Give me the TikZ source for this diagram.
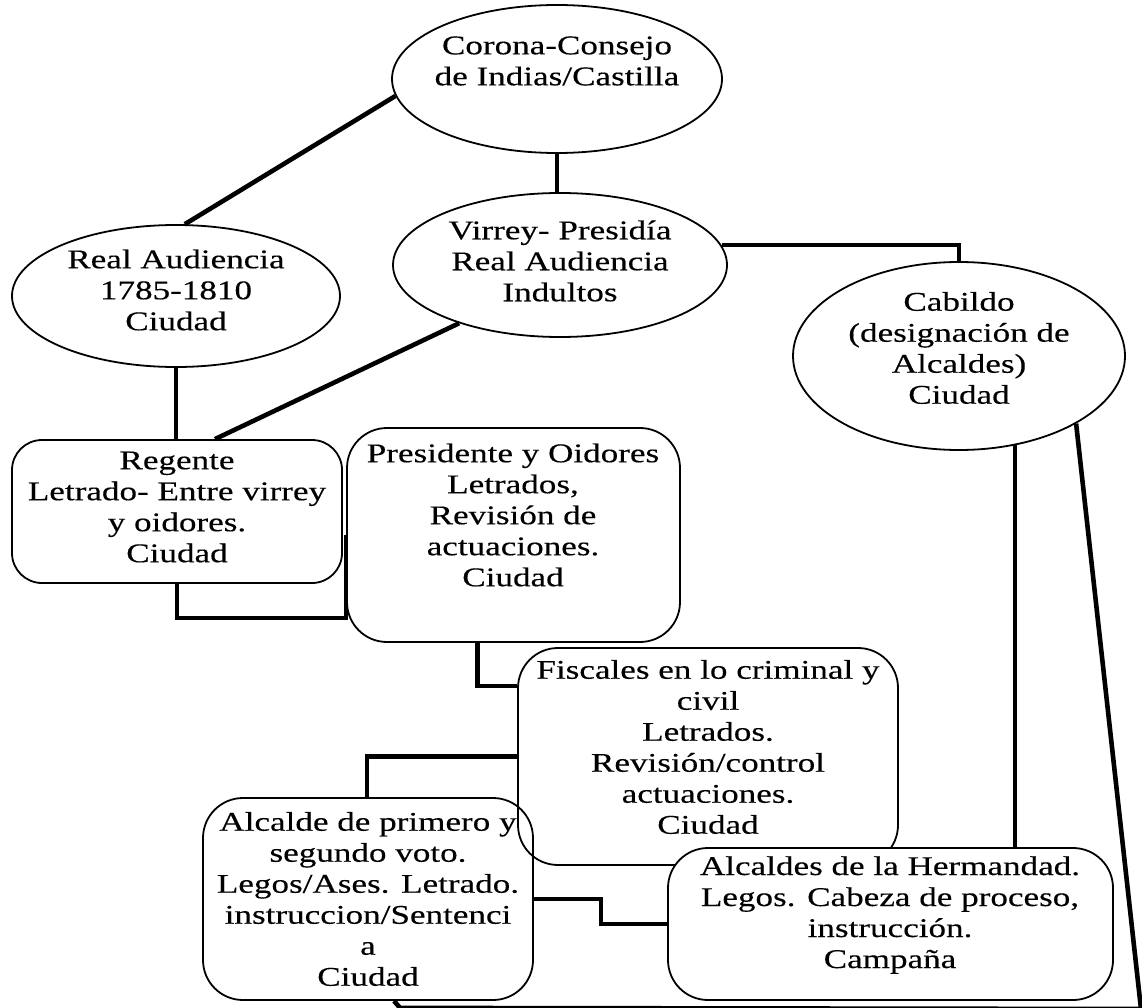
\documentclass[tikz,border=0pt]{standalone}
\usepackage{fontspec}
\setmainfont{Liberation Serif}[FakeStretch=1.3,FakeBold=0.3]
\usetikzlibrary{shapes.geometric,calc}
\begin{document}
\begin{tikzpicture}[x=1pt,y=-1pt,
  oval/.style={ellipse, draw, line width=1.8pt, fill=white, inner sep=0pt},
  rbox/.style={rectangle, rounded corners=#1, draw, line width=1.8pt, inner sep=0pt},
  rbox/.default=40pt,
  txt/.style={align=center, inner sep=0pt, font=\fontsize{27}{31}\selectfont},
  conn/.style={line width=4.6pt, line join=miter}
]
\useasboundingbox (0,0) rectangle (1142,1008);
\clip (0,0) rectangle (1142,1008);

% shapes
\node[oval, minimum width=330pt, minimum height=148pt] (corona) at (557,79) {};
\node[txt] (coronat) at (557,61) {Corona-Consejo\\de Indias/Castilla};

\node[oval, minimum width=334pt, minimum height=144pt] (vir) at (560,265) {};
\node[txt] (virt) at (560,261) {Virrey- Presidía\\Real Audiencia\\Indultos};

\node[oval, minimum width=328pt, minimum height=142pt] (ra) at (176,296) {};
\node[txt] (rat) at (176,290) {Real Audiencia\\1785-1810\\Ciudad};

\node[oval, minimum width=332pt, minimum height=188pt] (cab) at (959,356) {};
\node[txt] (cabt) at (959,348) {Cabildo\\(designación de\\Alcaldes)\\Ciudad};

\node[rbox=30pt, fill=white, minimum width=330pt, minimum height=143pt] (reg) at (177,511.5) {};
\node[txt] (regt) at (177,507) {Regente\\Letrado- Entre virrey\\y oidores.\\Ciudad};

\node[rbox, fill=white, minimum width=333pt, minimum height=214pt] (pres) at (513.5,535) {};
\node[txt] (prest) at (513,515) {Presidente y Oidores\\Letrados,\\Revisión de\\actuaciones.\\Ciudad};

\node[rbox, fill=white, minimum width=330pt, minimum height=202pt] (alc) at (368,899) {};
\node[txt] (alct) at (368,899) {Alcalde de primero y\\segundo voto.\\Legos/Ases. Letrado.\\instruccion/Sentenci\\a\\Ciudad};

\node[rbox, minimum width=380pt, minimum height=217pt] (fisc) at (708,756.5) {};
\node[txt] (fisct) at (708,747) {Fiscales en lo criminal y\\civil\\Letrados.\\Revisión/control\\actuaciones.\\Ciudad};

\node[rbox, fill=white, minimum width=445pt, minimum height=152pt] (herm) at (890.5,924) {};
\node[txt] (hermt) at (890,915) {Alcaldes de la Hermandad.\\Legos. Cabeza de proceso,\\instrucción.\\Campaña};

% connectors
\draw[conn] (corona.186) -- (ra.83);
\draw[conn] (corona.south) -- (corona.south |- vir.north);
\draw[conn] (vir.210) -- ($(reg.north)+(38,0)$);
\draw[conn] (ra.south) -- (ra.south |- reg.north);
\draw[conn] (reg.south) -- ++(0,34) -| (pres.west);
\draw[conn] ($(pres.south)+(-36,0)$) |- ($(fisc.north west)+(0,39)$);
\draw[conn] (fisc.west) -| ($(alc.north)+(-1,0)$);
\draw[conn] (alc.east) -- ++(67,0) |- (herm.west);
\draw[conn] (vir.7) -| (cab.north);
\draw[conn] (cab.-58) -- (cab.-58 |- herm.north);
\coordinate (br) at (1141,1009);
\draw[conn] (cab.-30) -- (br) -- ($(alc.south)+(32,7)$) -- ($(alc.south)+(26,0)$);
\end{tikzpicture}
\end{document}
